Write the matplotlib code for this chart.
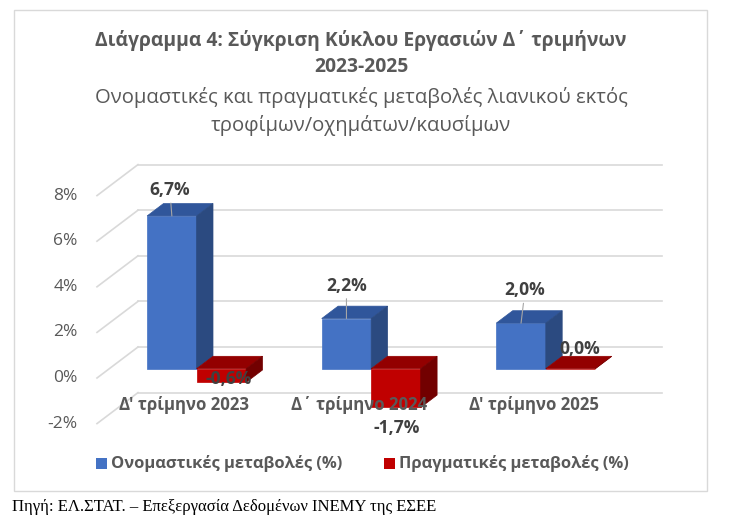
import matplotlib.pyplot as plt
from matplotlib.patches import Polygon, Rectangle

plt.rcParams['font.family'] = ['Open Sans', 'DejaVu Sans']

# data
categories = ["Δ' τρίμηνο 2023", "Δ΄ τρίμηνο 2024", "Δ' τρίμηνο 2025"]
nominal = [6.7, 2.2, 2.0]
real = [-0.6, -1.7, 0.0]
yticks = [-2, 0, 2, 4, 6, 8]
series_names = ['Ονομαστικές μεταβολές (%)', 'Πραγματικές μεταβολές (%)']

# 3d look: pixels per category / per %, depth offset of the box
PXU, PXV = 174.6, 22.8
DU, DV = 41 / PXU, 31 / PXV
W = 49.5 / PXU
D0, D1 = 0.3, 0.7

blue = ('#4472C4', '#30569B', '#2B4A80')
red = ('#C00000', '#930000', '#720000')
grid_c = '#d9d9d9'
txt_c = '#595959'
val_c = '#404040'

fig = plt.figure(figsize=(7.29, 5.25), dpi=100)
ax = fig.add_axes([0, 0, 1, 1])
ax.set_xlim(-97 / PXU, (729 - 97) / PXU)
ax.set_ylim((378 - 525) / PXV, 378 / PXV)
ax.axis('off')


def fx(px):
    return px / 729


def fy(py):
    return 1 - py / 525


def p(u, v, d):
    return (u + d * DU, v + d * DV)


# chart border
fig.add_artist(Rectangle((fx(14), fy(491)), fx(707) - fx(14), fy(10) - fy(491),
                         transform=fig.transFigure, fill=False, ec='#d9d9d9', lw=1))

# walls / gridlines
n = len(categories)
for t in yticks:
    a, b = p(0, t, 1), p(n, t, 1)
    ax.plot([a[0], b[0]], [a[1], b[1]], color=grid_c, lw=1.2, zorder=1)
    a, b = p(0, t, 0), p(0, t, 1)
    ax.plot([a[0], b[0]], [a[1], b[1]], color=grid_c, lw=1.2, zorder=1)
    ax.text(-0.11, t, f'{t}%', ha='right', va='center', fontsize=12.5, color=txt_c)


def bar3d(u0, v0, v1, cols):
    u1 = u0 + W
    lo, hi = min(v0, v1), max(v0, v1)
    front = [p(u0, lo, D0), p(u1, lo, D0), p(u1, hi, D0), p(u0, hi, D0)]
    top = [p(u0, hi, D0), p(u1, hi, D0), p(u1, hi, D1), p(u0, hi, D1)]
    side = [p(u1, lo, D0), p(u1, hi, D0), p(u1, hi, D1), p(u1, lo, D1)]
    for pts, c in zip((front, top, side), cols):
        ax.add_patch(Polygon(pts, closed=True, fc=c, ec=c, lw=0.5, zorder=3))


for i in range(n):
    bar3d(i + 0.5 - W, 0, nominal[i], blue)
    bar3d(i + 0.5, 0, real[i], red)
    ax.annotate(categories[i], xy=(i + 0.5, 0), xytext=(0, -27), textcoords='offset pixels',
                ha='center', va='center', fontsize=12.1, fontweight='bold', color=txt_c, zorder=5)

# value labels
blue_off = [(-2, 26), (0, 33), (4, 33)]
red_off = [(7, 3), (1, -21), (9, 20)]
for i in range(n):
    xy = p(i + 0.5 - W / 2, nominal[i], D0)
    ax.annotate(f'{nominal[i]:.1f}%'.replace('.', ','), xy=xy, xytext=blue_off[i],
                textcoords='offset pixels', ha='center', va='center', fontsize=12.6,
                fontweight='bold', color=val_c, zorder=6,
                arrowprops=dict(arrowstyle='-', color='#a6a6a6', lw=0.8, shrinkA=1, shrinkB=0))
    xy = p(i + 0.5 + W / 2, real[i], D0)
    ax.annotate(f'{real[i]:.1f}%'.replace('.', ','), xy=xy, xytext=red_off[i],
                textcoords='offset pixels', ha='center', va='center', fontsize=12.6,
                fontweight='bold', color=val_c, zorder=6)

# titles
fig.text(fx(361), fy(46), 'Διάγραμμα 4: Σύγκριση Κύκλου Εργασιών Δ΄ τριμήνων', ha='center',
         va='baseline', fontsize=13.85, fontweight='bold', color=txt_c)
fig.text(fx(361), fy(72), '2023-2025', ha='center', va='baseline', fontsize=13.85,
         fontweight='bold', color=txt_c)
fig.text(fx(361), fy(103), 'Ονομαστικές και πραγματικές μεταβολές λιανικού εκτός', ha='center',
         va='baseline', fontsize=14.6, color=txt_c)
fig.text(fx(361), fy(131), 'τροφίμων/οχημάτων/καυσίμων', ha='center', va='baseline',
         fontsize=14.6, color=txt_c)

# legend
for sx, tx, name, c in [(96, 111, series_names[0], blue[0]), (384, 399, series_names[1], red[0])]:
    fig.add_artist(Rectangle((fx(sx), fy(469)), fx(10.5), 11 / 525, transform=fig.transFigure,
                             fc=c, ec='none'))
    fig.text(fx(tx), fy(464), name, ha='left', va='center', fontsize=11.85,
             fontweight='bold', color=txt_c)

# source
fig.text(fx(12), fy(511), 'Πηγή: ΕΛ.ΣΤΑΤ. – Επεξεργασία Δεδομένων ΙΝΕΜΥ της ΕΣΕΕ',
         ha='left', va='baseline', fontsize=12, family='Liberation Serif', color='black')

fig.savefig('out.png', dpi=100)
